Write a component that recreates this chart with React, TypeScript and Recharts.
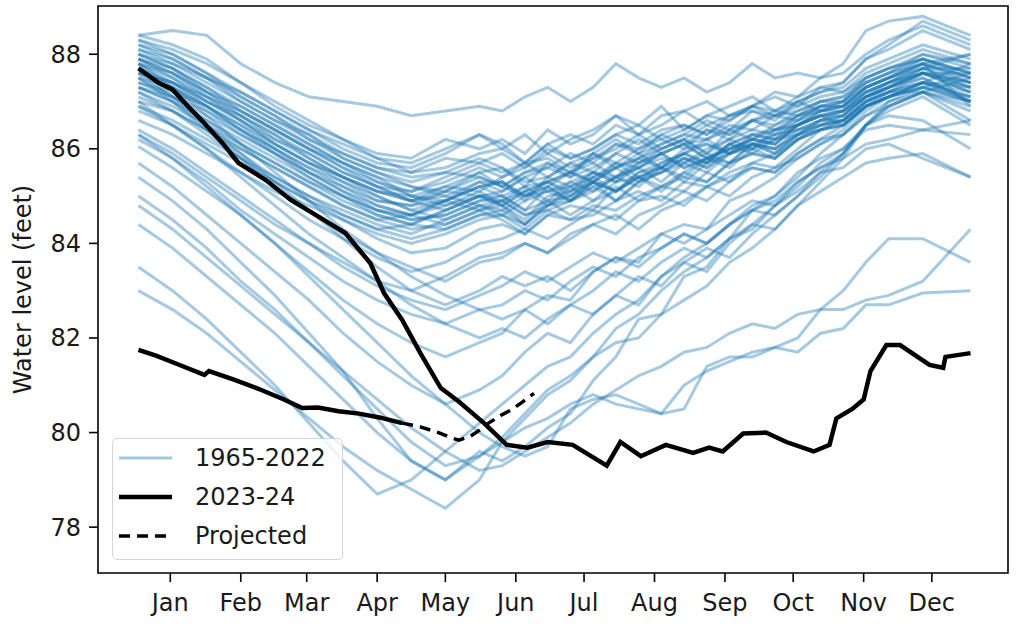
import React from "react";
import { LineChart, Line, XAxis, YAxis, Legend, ReferenceArea } from "recharts";

const FONT = '"DejaVu Sans", sans-serif';
const BLUE = "#1f77b4";
const INK = "#1a1a1a";

const monthLabels = ["Jan", "Feb", "Mar", "Apr", "May", "Jun", "Jul", "Aug", "Sep", "Oct", "Nov", "Dec"];
const monthTickDays = [14, 45, 74, 105, 135, 166, 196, 227, 258, 288, 319, 349];
const levelTicks = [78, 80, 82, 84, 86, 88];

const X_DOMAIN: [number, number] = [-17.8, 382.5];
const Y_DOMAIN: [number, number] = [77.03, 89.02];

// day of year for each value in the 1965-2022 rows (denser in summer/fall, where lines are ragged)
const sampleDays = [0, 15, 30, 45, 60, 75, 90, 105, 120, 135, 150, 160, 170, 180, 190, 200, 210, 220, 230, 240, 250, 260, 270, 280, 290, 300, 310, 320, 330, 345, 366];

// years that stay in the main band
const typicalYears = [
  [88.4, 88.5, 88.4, 87.8, 87.4, 87.1, 87.0, 86.9, 86.7, 86.8, 86.9, 86.8, 87.1, 87.3, 87.0, 87.3, 87.8, 87.5, 87.3, 87.5, 87.2, 87.4, 87.8, 87.5, 87.6, 87.5, 87.8, 88.5, 88.7, 88.8, 88.4],
  [88.2, 88.0, 87.6, 87.2, 86.8, 86.4, 86.0, 85.7, 85.6, 85.9, 86.3, 86.0, 85.7, 86.1, 85.8, 86.0, 86.3, 86.1, 86.4, 86.5, 86.3, 86.7, 86.8, 86.6, 87.0, 87.2, 87.4, 87.9, 88.2, 88.7, 88.3],
  [88.0, 87.7, 87.3, 86.8, 86.4, 86.0, 85.6, 85.3, 85.1, 85.3, 85.6, 85.4, 85.7, 85.8, 85.5, 85.8, 86.1, 85.9, 86.3, 86.1, 86.4, 86.3, 86.6, 86.7, 86.8, 87.0, 87.1, 87.5, 87.7, 87.9, 87.6],
  [87.9, 87.5, 87.0, 86.6, 86.1, 85.7, 85.3, 84.9, 84.8, 84.9, 85.3, 85.3, 85.0, 85.2, 85.5, 85.3, 85.7, 85.4, 85.6, 85.9, 85.7, 86.1, 86.3, 86.2, 86.6, 86.9, 86.9, 87.3, 87.5, 87.8, 87.5],
  [87.8, 87.6, 87.2, 86.9, 86.5, 86.1, 85.7, 85.4, 85.0, 84.8, 85.0, 84.8, 85.1, 85.3, 85.0, 85.4, 85.6, 85.9, 85.6, 85.8, 85.7, 86.1, 86.0, 86.4, 86.5, 86.7, 86.8, 87.2, 87.4, 87.7, 88.0],
  [87.6, 87.3, 86.9, 86.4, 85.9, 85.5, 85.1, 84.7, 84.5, 84.6, 84.9, 84.9, 84.6, 84.8, 85.2, 84.9, 85.3, 85.4, 85.1, 85.5, 85.8, 85.6, 86.0, 86.2, 86.3, 86.6, 86.8, 87.1, 87.3, 87.6, 87.3],
  [88.3, 88.1, 87.8, 87.4, 86.9, 86.5, 86.2, 85.9, 85.8, 86.2, 86.0, 86.2, 85.9, 86.4, 86.1, 86.3, 86.7, 86.5, 86.9, 86.4, 86.7, 86.9, 87.1, 86.8, 87.0, 87.2, 87.3, 87.7, 87.9, 88.2, 87.9],
  [87.5, 87.1, 86.6, 86.2, 85.8, 85.4, 85.0, 84.6, 84.4, 84.3, 84.6, 84.6, 84.4, 84.9, 84.6, 84.9, 85.1, 85.4, 85.2, 85.5, 85.3, 85.7, 85.9, 85.8, 86.2, 86.4, 86.6, 87.0, 87.2, 87.6, 87.4],
  [87.4, 87.2, 86.9, 86.5, 86.0, 85.6, 85.2, 84.8, 84.6, 84.9, 85.2, 85.0, 85.2, 84.9, 85.3, 85.1, 85.4, 85.6, 85.9, 86.1, 85.8, 86.0, 86.2, 86.1, 86.5, 86.7, 86.5, 86.9, 87.1, 87.4, 87.8],
  [88.1, 87.8, 87.4, 87.0, 86.6, 86.3, 85.9, 85.6, 85.4, 85.5, 85.8, 85.6, 85.2, 85.7, 85.5, 85.9, 85.7, 86.0, 86.2, 86.0, 86.4, 86.2, 86.6, 86.5, 86.8, 87.0, 87.0, 87.4, 87.6, 88.0, 87.8],
  [87.7, 87.4, 87.0, 86.7, 86.3, 85.8, 85.4, 85.0, 84.7, 84.5, 84.8, 84.6, 84.9, 85.1, 84.9, 85.3, 85.1, 85.5, 85.7, 85.9, 86.2, 85.9, 86.1, 86.3, 86.4, 86.6, 86.7, 87.1, 87.3, 87.6, 87.2],
  [87.3, 87.0, 86.5, 86.0, 85.6, 85.2, 84.8, 84.5, 84.3, 84.4, 84.7, 84.5, 84.2, 84.6, 84.8, 84.7, 85.2, 84.9, 85.2, 85.4, 85.3, 85.7, 85.9, 85.8, 86.2, 86.4, 86.5, 86.9, 87.1, 87.4, 87.1],
  [88.2, 87.9, 87.5, 87.1, 86.7, 86.2, 85.8, 85.5, 85.3, 85.5, 85.4, 85.2, 85.5, 85.7, 85.4, 85.6, 85.9, 86.2, 85.9, 86.1, 86.2, 86.4, 86.6, 86.4, 86.7, 86.9, 87.0, 87.4, 87.6, 87.8, 88.0],
  [87.9, 87.6, 87.2, 86.7, 86.2, 85.8, 85.4, 85.1, 84.9, 85.1, 85.5, 85.6, 85.3, 85.4, 85.7, 85.5, 85.9, 85.7, 86.0, 86.2, 85.9, 86.4, 86.2, 86.5, 86.7, 86.8, 86.9, 87.2, 87.4, 87.8, 87.5],
  [87.6, 87.4, 87.1, 86.8, 86.4, 86.0, 85.6, 85.2, 84.9, 85.0, 84.8, 84.7, 85.0, 85.2, 84.9, 85.3, 85.1, 85.5, 85.6, 85.4, 85.8, 85.7, 86.1, 86.0, 86.3, 86.5, 86.6, 87.0, 87.2, 87.5, 87.0],
  [88.0, 87.7, 87.2, 86.8, 86.4, 86.0, 85.7, 85.4, 85.2, 85.0, 85.3, 85.1, 85.4, 85.6, 85.4, 85.9, 85.6, 85.8, 86.1, 86.3, 86.2, 86.5, 86.4, 86.7, 86.6, 86.9, 87.0, 87.5, 87.7, 88.0, 87.7],
  [87.2, 86.9, 86.5, 86.1, 85.7, 85.3, 84.9, 84.6, 84.4, 84.7, 85.0, 84.8, 84.4, 84.8, 85.0, 85.3, 84.9, 85.3, 85.5, 85.8, 85.6, 85.9, 86.1, 85.9, 86.3, 86.4, 86.5, 86.9, 87.1, 87.3, 87.6],
  [87.8, 87.5, 87.1, 86.6, 86.2, 85.9, 85.5, 85.2, 85.1, 85.4, 85.7, 85.5, 85.7, 85.4, 85.7, 85.9, 86.2, 85.9, 86.1, 86.3, 86.6, 86.4, 86.8, 86.7, 87.0, 86.8, 87.0, 87.3, 87.5, 87.8, 87.4],
  [87.0, 86.8, 86.4, 85.9, 85.4, 85.0, 84.7, 84.4, 84.2, 84.5, 84.8, 84.9, 84.6, 84.7, 84.9, 85.1, 85.4, 85.2, 85.6, 85.3, 85.7, 85.9, 86.1, 85.9, 86.3, 86.5, 86.6, 86.9, 87.1, 87.4, 87.3],
  [88.3, 88.0, 87.6, 87.1, 86.7, 86.3, 85.8, 85.5, 85.2, 85.1, 85.4, 85.2, 85.5, 85.6, 85.9, 85.7, 86.1, 86.0, 86.3, 86.5, 86.3, 86.6, 86.9, 86.8, 87.1, 87.3, 87.4, 87.9, 88.1, 88.5, 88.1],
  [87.5, 87.3, 86.9, 86.4, 86.0, 85.6, 85.3, 85.0, 84.7, 84.9, 85.2, 85.3, 84.9, 85.4, 85.2, 85.4, 85.7, 85.6, 85.9, 86.1, 85.8, 86.1, 86.3, 86.2, 86.5, 86.7, 86.8, 87.2, 87.4, 87.7, 87.7],
  [87.7, 87.3, 86.8, 86.3, 85.9, 85.4, 85.0, 84.7, 84.6, 84.8, 85.1, 84.8, 84.5, 85.0, 85.1, 85.4, 85.1, 85.4, 85.6, 85.9, 85.7, 86.1, 85.9, 86.2, 86.4, 86.6, 86.7, 87.1, 87.3, 87.6, 87.6],
  [86.8, 86.5, 86.1, 85.7, 85.3, 84.9, 84.6, 84.3, 84.4, 84.7, 85.0, 85.0, 84.7, 84.9, 85.0, 85.3, 85.1, 85.4, 85.5, 85.8, 85.6, 86.0, 86.1, 86.0, 86.4, 86.5, 86.6, 87.0, 87.2, 87.4, 87.2],
  [88.1, 87.9, 87.5, 87.2, 86.8, 86.4, 86.1, 85.8, 85.7, 86.0, 86.3, 86.1, 85.7, 86.1, 86.3, 86.1, 86.5, 86.3, 86.7, 86.8, 86.5, 86.7, 86.9, 87.1, 86.9, 87.3, 87.2, 87.6, 87.8, 88.1, 87.8],
  [87.4, 87.1, 86.7, 86.3, 85.9, 85.5, 85.2, 84.9, 84.8, 85.1, 85.0, 84.9, 85.1, 85.3, 85.5, 85.3, 85.6, 85.8, 85.6, 86.0, 86.1, 85.9, 86.3, 86.4, 86.6, 86.8, 86.9, 87.3, 87.5, 87.9, 87.5],
  [87.9, 87.7, 87.3, 86.9, 86.5, 86.1, 85.7, 85.3, 85.0, 84.9, 85.2, 85.3, 85.0, 85.1, 85.2, 85.5, 85.3, 85.7, 85.9, 85.6, 85.8, 86.0, 86.2, 86.1, 86.5, 86.7, 86.7, 87.1, 87.3, 87.7, 87.3],
  [86.6, 86.3, 85.9, 85.5, 85.1, 84.8, 84.5, 84.2, 84.0, 84.2, 84.5, 84.6, 84.3, 84.7, 84.5, 84.6, 84.9, 85.1, 84.9, 85.3, 85.2, 85.4, 85.6, 85.5, 85.9, 86.2, 86.3, 86.7, 87.0, 87.3, 87.0],
  [88.0, 87.8, 87.5, 87.0, 86.6, 86.2, 85.9, 85.6, 85.5, 85.8, 85.7, 85.9, 85.6, 86.0, 85.8, 86.0, 86.3, 86.5, 86.2, 86.4, 86.7, 86.6, 86.9, 86.7, 86.9, 87.1, 87.2, 87.5, 87.7, 87.9, 87.6],
  [87.3, 87.0, 86.6, 86.1, 85.7, 85.3, 85.0, 84.7, 84.5, 84.6, 84.9, 85.0, 84.7, 85.2, 84.9, 85.2, 85.4, 85.6, 85.3, 85.7, 85.9, 85.7, 86.1, 86.0, 86.3, 86.6, 86.6, 87.0, 87.2, 87.2, 87.5],
  [87.6, 87.4, 87.0, 86.6, 86.1, 85.7, 85.4, 85.1, 84.9, 85.2, 85.5, 85.2, 85.0, 85.3, 85.5, 85.7, 85.4, 85.8, 86.0, 86.2, 85.9, 86.2, 86.4, 86.3, 86.7, 86.9, 86.9, 87.3, 87.5, 87.8, 86.9],
  [87.9, 87.6, 87.1, 86.7, 86.3, 85.9, 85.5, 85.2, 84.9, 84.7, 85.0, 85.1, 85.4, 85.1, 85.3, 85.5, 85.3, 85.6, 85.8, 85.7, 86.0, 86.2, 86.0, 86.3, 86.5, 86.8, 86.9, 87.3, 87.5, 87.7, 87.4],
  [87.1, 86.8, 86.4, 86.0, 85.6, 85.2, 84.8, 84.5, 84.6, 84.9, 84.7, 84.9, 85.2, 85.3, 85.1, 85.5, 85.4, 85.7, 85.9, 85.6, 85.8, 86.0, 86.2, 86.1, 86.5, 86.8, 86.8, 87.2, 87.4, 87.6, 87.2],
  [88.4, 88.2, 87.9, 87.4, 87.0, 86.6, 86.2, 85.8, 85.5, 85.6, 85.9, 86.0, 86.3, 85.9, 86.2, 86.4, 86.7, 86.3, 86.5, 86.8, 87.0, 86.7, 86.9, 87.2, 87.1, 87.5, 87.6, 88.0, 88.3, 88.6, 88.2],
  [87.3, 87.1, 86.8, 86.4, 86.0, 85.5, 85.1, 84.8, 84.6, 84.4, 84.7, 84.8, 85.1, 84.8, 85.1, 85.3, 85.6, 85.3, 85.7, 85.9, 86.1, 85.9, 86.2, 86.4, 86.5, 86.7, 86.8, 87.1, 87.3, 87.6, 87.4],
  [87.8, 87.4, 86.9, 86.5, 86.1, 85.7, 85.4, 85.1, 85.0, 85.2, 85.1, 85.4, 85.6, 85.9, 85.6, 85.8, 86.0, 86.3, 86.0, 86.2, 86.5, 86.3, 86.6, 86.8, 86.7, 87.0, 87.1, 87.4, 87.6, 87.9, 87.6],
  [86.9, 86.6, 86.2, 85.8, 85.4, 85.0, 84.6, 84.3, 84.1, 84.3, 84.6, 84.7, 84.4, 84.8, 84.9, 85.2, 84.9, 85.3, 85.5, 85.7, 85.5, 85.9, 86.0, 85.8, 86.2, 86.4, 86.5, 86.9, 87.1, 87.4, 87.1],
];

// years that sank below the band in spring
const lowerYears = [
  [87.2, 86.8, 86.3, 85.8, 85.3, 84.9, 84.5, 84.1, 83.8, 83.9, 84.3, 84.4, 84.2, 84.6, 84.5, 84.8, 84.7, 85.0, 85.2, 85.1, 85.5, 85.3, 85.7, 85.9, 86.2, 86.5, 86.7, 87.1, 87.4, 87.6, 87.3],
  [87.0, 86.5, 86.0, 85.5, 85.0, 84.5, 84.1, 83.7, 83.4, 83.6, 84.0, 84.1, 84.3, 84.1, 84.4, 84.7, 84.5, 84.9, 85.0, 84.8, 85.2, 85.5, 85.7, 85.6, 86.0, 86.4, 86.6, 87.0, 87.3, 87.5, 87.0],
  [86.4, 86.0, 85.5, 85.0, 84.5, 84.0, 83.6, 83.2, 83.0, 83.3, 83.7, 83.8, 84.0, 83.8, 84.2, 84.4, 84.2, 84.6, 84.8, 85.1, 84.9, 85.3, 85.6, 85.5, 85.9, 86.2, 86.5, 86.9, 87.2, 87.4, 87.0],
  [87.5, 87.0, 86.4, 85.8, 85.2, 84.7, 84.2, 83.8, 83.5, 83.2, 83.6, 83.7, 84.0, 83.8, 84.1, 84.4, 84.6, 84.3, 84.7, 84.9, 85.2, 85.0, 85.4, 85.6, 85.8, 86.1, 86.3, 86.7, 86.9, 87.2, 86.8],
  [86.3, 85.9, 85.4, 84.9, 84.4, 84.0, 83.5, 83.1, 82.8, 82.6, 82.9, 83.1, 83.4, 83.2, 83.5, 83.8, 83.6, 83.9, 84.2, 84.0, 84.3, 84.6, 84.9, 84.8, 85.3, 85.6, 85.9, 86.5, 86.8, 87.1, 86.5],
  [87.8, 87.3, 86.7, 86.1, 85.5, 84.9, 84.3, 83.8, 83.3, 82.9, 82.6, 82.7, 83.0, 82.8, 83.2, 83.5, 83.3, 83.7, 83.9, 84.2, 84.0, 84.4, 84.7, 85.0, 85.4, 85.9, 86.3, 86.8, 87.1, 87.3, 87.1],
  [86.9, 86.5, 86.0, 85.4, 84.8, 84.2, 83.7, 83.2, 82.7, 82.3, 82.0, 82.2, 82.0, 82.4, 82.7, 82.5, 82.9, 83.3, 83.1, 83.6, 83.9, 83.7, 84.2, 84.6, 85.0, 85.5, 85.9, 86.5, 86.9, 87.2, 86.9],
  [87.6, 87.1, 86.5, 85.9, 85.3, 84.7, 84.1, 83.5, 83.0, 82.7, 83.0, 83.3, 83.1, 83.3, 83.0, 83.4, 83.7, 83.5, 83.9, 84.2, 84.0, 84.4, 84.7, 84.6, 85.0, 85.4, 85.9, 86.5, 86.9, 87.2, 87.0],
  [86.2, 85.8, 85.3, 84.7, 84.2, 83.7, 83.2, 82.8, 82.5, 82.3, 82.6, 82.4, 82.6, 82.3, 82.7, 83.0, 83.4, 83.2, 83.6, 83.9, 83.7, 84.1, 84.4, 84.3, 84.8, 85.3, 85.8, 86.5, 87.0, 87.2, 86.6],
];

// dry years that reached 78-81 ft
const dryYears = [
  [86.05, 85.6, 85.1, 84.6, 84.0, 83.4, 82.8, 82.3, 81.9, 81.6, 81.9, 82.1, 82.6, 82.9, 82.8, 83.4, 83.7, 83.6, 84.2, 84.4, 84.3, 84.9, 85.1, 85.4, 85.8, 86.1, 86.4, 86.9, 87.1, 87.3, 87.0],
  [85.7, 85.2, 84.6, 84.0, 83.4, 82.8, 82.1, 81.5, 81.0, 80.6, 80.9, 81.2, 81.7, 82.1, 81.9, 82.5, 82.9, 82.7, 83.3, 83.6, 83.4, 84.0, 84.4, 84.8, 85.2, 85.7, 86.0, 86.5, 86.7, 86.6, 86.0],
  [85.4, 84.9, 84.3, 83.6, 82.9, 82.1, 81.3, 80.3, 79.4, 79.0, 79.6, 79.4, 79.7, 80.1, 80.4, 81.1, 81.6, 82.4, 82.5, 83.3, 83.5, 84.1, 84.3, 84.8, 85.1, 85.5, 85.6, 86.0, 86.1, 85.8, 85.4],
  [84.4, 83.9, 83.3, 82.7, 82.1, 81.4, 80.7, 80.0, 79.4, 79.0, 79.5, 79.9, 80.4, 80.9, 81.2, 81.6, 82.2, 82.5, 83.0, 83.4, 83.7, 84.1, 84.7, 84.9, 85.3, 85.6, 85.8, 86.1, 86.2, 86.4, 86.6],
  [83.5, 83.0, 82.4, 81.7, 81.0, 80.2, 79.4, 78.7, 79.0, 79.6, 80.2, 80.6, 81.0, 81.4, 81.6, 82.1, 82.5, 82.8, 83.3, 83.7, 84.0, 84.4, 84.8, 85.0, 85.5, 85.8, 86.0, 86.4, 86.5, 86.4, 86.3],
  [83.0, 82.6, 82.1, 81.5, 80.9, 80.3, 79.7, 79.2, 78.8, 78.4, 79.0, 79.8, 80.3, 80.8, 81.1, 81.6, 81.9, 82.0, 82.5, 82.8, 83.1, 83.6, 83.9, 84.3, 84.8, 85.1, 85.4, 85.7, 85.8, 85.9, 85.4],
];

// years that stayed low through the autumn
const lateLowYears = [
  [86.3, 85.8, 85.2, 84.6, 84.0, 83.3, 82.6, 81.9, 81.2, 80.6, 80.0, 79.7, 79.5, 79.7, 80.5, 80.7, 80.8, 80.6, 80.4, 80.5, 81.4, 81.6, 81.6, 81.8, 81.7, 82.1, 82.2, 82.7, 82.7, 82.95, 83.0],
  [85.0, 84.5, 83.9, 83.2, 82.6, 81.9, 81.2, 80.5, 79.8, 79.3, 79.5, 79.8, 80.1, 80.3, 80.6, 80.8, 80.6, 80.5, 80.4, 81.0, 81.3, 81.5, 81.7, 81.8, 82.0, 82.6, 83.0, 83.6, 84.1, 84.1, 83.6],
  [84.8, 84.3, 83.7, 83.1, 82.5, 81.9, 81.3, 80.7, 80.1, 79.6, 79.2, 79.3, 79.6, 79.9, 80.2, 80.6, 80.9, 81.2, 81.4, 81.7, 81.8, 82.1, 82.3, 82.2, 82.5, 82.6, 82.6, 82.8, 82.9, 83.2, 84.3],
];

// 2023 calendar year
const days2023 = [0, 9, 15, 22, 29, 37, 44, 56, 67, 79, 91, 102, 108, 116, 124, 133, 141, 152, 162, 171, 180, 191, 206, 212, 221, 232, 244, 251, 257, 266, 276, 285, 297, 304, 307, 314, 319, 322, 329, 335, 348, 354, 355, 366];
const level2023 = [87.7, 87.39, 87.25, 86.89, 86.54, 86.12, 85.7, 85.34, 84.92, 84.57, 84.22, 83.58, 82.95, 82.38, 81.68, 80.94, 80.65, 80.2, 79.74, 79.68, 79.8, 79.74, 79.3, 79.8, 79.5, 79.74, 79.57, 79.68, 79.6, 79.98, 80.0, 79.8, 79.6, 79.74, 80.3, 80.5, 80.7, 81.3, 81.85, 81.85, 81.43, 81.37, 81.6, 81.68];

// 2024 to date
const days2024 = [0, 8, 17, 29, 31, 42, 53, 64, 72, 79, 88, 97, 106, 116];
const level2024 = [81.75, 81.62, 81.45, 81.22, 81.3, 81.12, 80.92, 80.7, 80.52, 80.53, 80.45, 80.4, 80.32, 80.2];

const daysProjected = [116, 124, 132, 138, 141, 146, 150, 154, 160, 164, 169, 174];
const levelProjected = [80.2, 80.12, 80.0, 79.88, 79.84, 79.92, 80.05, 80.2, 80.38, 80.48, 80.65, 80.83];

const legendItems = [
  { label: "1965-2022", stroke: BLUE, opacity: 0.4, width: 3, dash: undefined },
  { label: "2023-24", stroke: "#000", opacity: 1, width: 4.5, dash: undefined },
  { label: "Projected", stroke: "#000", opacity: 1, width: 3.5, dash: "11 7" },
];

const toPoints = (days: number[], vals: number[]) => days.map((d, i) => ({ d, v: vals[i] }));

const history = [...typicalYears, ...lowerYears, ...dryYears, ...lateLowYears].map((vals) => toPoints(sampleDays, vals));

const LegendBox = () => (
  <div
    style={{
      position: "relative",
      width: 231,
      height: 122,
      boxSizing: "border-box",
      border: "1.5px solid #d4d4d4",
      borderRadius: 5,
      background: "rgba(255,255,255,0.8)",
      fontFamily: FONT,
      fontSize: 24,
      color: INK,
    }}
  >
    {legendItems.map((item, i) => (
      <div
        key={item.label}
        style={{ position: "absolute", left: 6, top: 7 + i * 39.2, height: 24, display: "flex", alignItems: "center" }}
      >
        <svg width={53} height={24} style={{ display: "block" }}>
          <line x1={0} y1={12} x2={53} y2={12} stroke={item.stroke} strokeOpacity={item.opacity} strokeWidth={item.width} strokeDasharray={item.dash} />
        </svg>
        <span style={{ marginLeft: 23, lineHeight: "24px", whiteSpace: "nowrap" }}>{item.label}</span>
      </div>
    ))}
  </div>
);

const tickStyle = { fontSize: 24, fill: INK, fontFamily: FONT };

export default function App() {
  return (
    <div style={{ position: "absolute", left: 0, top: 0 }}>
      <LineChart width={1024} height={644} margin={{ top: 6, right: 16, bottom: 31, left: 0 }}>
        <XAxis
          type="number"
          dataKey="d"
          domain={X_DOMAIN}
          allowDataOverflow
          ticks={monthTickDays}
          interval={0}
          tickFormatter={(d: number) => monthLabels[monthTickDays.indexOf(d)] ?? ""}
          axisLine={false}
          tickLine={{ stroke: "#000", strokeWidth: 1.6 }}
          tickSize={9}
          tickMargin={12}
          height={40}
          tick={tickStyle}
        />
        <YAxis
          type="number"
          domain={Y_DOMAIN}
          allowDataOverflow
          ticks={levelTicks}
          interval={0}
          axisLine={false}
          tickLine={{ stroke: "#000", strokeWidth: 1.6 }}
          tickSize={9}
          tickMargin={8}
          width={98}
          tick={tickStyle}
          label={{
            value: "Water level (feet)",
            angle: -90,
            position: "insideLeft",
            offset: 22,
            style: { textAnchor: "middle", fontSize: 24, fill: INK, fontFamily: FONT },
          }}
        />
        {history.map((pts, i) => (
          <Line
            key={`past-${i}`}
            data={pts}
            dataKey="v"
            type="linear"
            stroke={BLUE}
            strokeOpacity={0.4}
            strokeWidth={3}
            dot={false}
            activeDot={false}
            legendType="none"
            isAnimationActive={false}
          />
        ))}
        <Line data={toPoints(days2023, level2023)} dataKey="v" type="linear" stroke="#000" strokeWidth={4.5} dot={false} activeDot={false} legendType="none" isAnimationActive={false} />
        <Line data={toPoints(days2024, level2024)} dataKey="v" type="linear" stroke="#000" strokeWidth={4.5} dot={false} activeDot={false} legendType="none" isAnimationActive={false} />
        <Line data={toPoints(daysProjected, levelProjected)} dataKey="v" type="linear" stroke="#000" strokeWidth={3.5} strokeDasharray="11 7" dot={false} activeDot={false} legendType="none" isAnimationActive={false} />
        <ReferenceArea x1={X_DOMAIN[0]} x2={X_DOMAIN[1]} y1={Y_DOMAIN[0]} y2={Y_DOMAIN[1]} fill="none" stroke="#000" strokeWidth={1.6} ifOverflow="visible" />
        <Legend
          layout="vertical"
          align="center"
          verticalAlign="middle"
          wrapperStyle={{ left: 112, top: 438, width: 231, height: 122 }}
          content={() => <LegendBox />}
        />
      </LineChart>
    </div>
  );
}
